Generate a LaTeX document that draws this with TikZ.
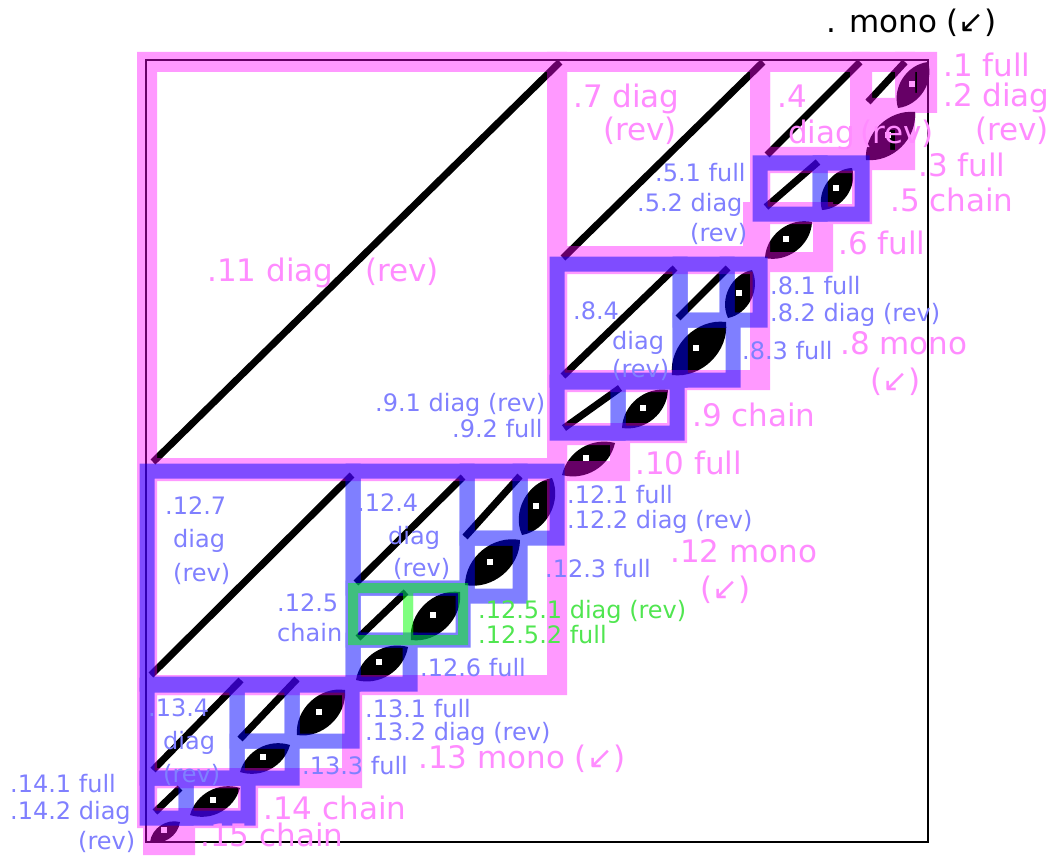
\documentclass[tikz,border=0pt]{standalone}
\usepackage{fontspec}
\setmainfont{DejaVu Sans}
\usetikzlibrary{calc}
\definecolor{pinkband}{RGB}{255,0,255}
\definecolor{blueband}{RGB}{0,0,255}
\definecolor{greenband}{RGB}{0,255,0}
\definecolor{pinktxt}{RGB}{255,140,255}
\definecolor{bluetxt}{RGB}{128,128,255}
\definecolor{greentxt}{RGB}{80,230,80}
\tikzset{
  diagline/.style={line width=7pt},
  pinkbox/.style={draw=pinkband,line width=20pt},
  bluebox/.style={draw=blueband,line width=15pt},
  greenbox/.style={draw=greenband,line width=10pt},
  biglab/.style={font=\fontsize{31}{34}\selectfont, anchor=base west, inner sep=0pt},
  smalllab/.style={font=\fontsize{24}{27}\selectfont, anchor=base west, inner sep=0pt},
  pl/.style={biglab,text=pinktxt},
  kl/.style={biglab,text=black},
  bl/.style={smalllab,text=bluetxt},
  gl/.style={smalllab,text=greentxt},
}
\newcommand\fullblob[3]{%
  \fill[black] (#1) to[bend left=#3] (#2) to[bend left=#3] (#1) -- cycle;
  \fill[white] ($(#1)!0.45!(#2)+(-3,-6)$) rectangle ++(6,6);}
\begin{document}
\begin{tikzpicture}[x=1pt,y=-1pt]
\fill[white] (0,0) rectangle (1052,856);
\useasboundingbox (0,0) rectangle (1052,856);

% frame
\draw[line width=1.6pt] (146,60) rectangle (928,842);

% diagonal (diag) contents
\draw[diagline] (153,462) -- (560,62);   % .11
\draw[diagline] (563,258) -- (763,62);   % .7
\draw[diagline] (767,155) -- (860,62);   % .4
\draw[diagline] (868,102) -- (905,62);   % .2
\draw[diagline] (766,207) -- (818,162);  % .5.2
\draw[diagline] (563,376) -- (675,268);  % .8.4
\draw[diagline] (678,318) -- (728,268);  % .8.2
\draw[diagline] (564,428) -- (620,388);  % .9.1
\draw[diagline] (151,675) -- (352,475);  % .12.7
\draw[diagline] (356,583) -- (463,477);  % .12.4
\draw[diagline] (465,537) -- (520,476);  % .12.2
\draw[diagline] (358,638) -- (406,592);  % .12.5.1
\draw[diagline] (153,770) -- (241,680);  % .13.4
\draw[diagline] (240,739) -- (297,679);  % .13.2
\draw[diagline] (155,812) -- (180,788);  % .14.2

% full contents
\fullblob{898,108}{928,62}{50}    % .1
\fullblob{866,160}{915,112}{50}   % .3
\fullblob{822,210}{852,168}{52}   % .5.1
\fullblob{765,258}{812,222}{50}   % .6
\fullblob{728,318}{752,270}{52}   % .8.1
\fullblob{672,375}{726,322}{52}   % .8.3
\fullblob{622,428}{668,390}{48}   % .9.2
\fullblob{562,475}{615,443}{46}   % .10
\fullblob{522,535}{552,478}{52}   % .12.1
\fullblob{465,585}{520,540}{50}   % .12.3
\fullblob{411,640}{460,592}{52}   % .12.5.2
\fullblob{356,680}{408,647}{48}   % .12.6
\fullblob{297,735}{345,690}{52}   % .13.1
\fullblob{240,772}{290,745}{46}   % .13.3
\fullblob{190,815}{240,788}{46}   % .14.1
\fullblob{150,842}{180,822}{48}   % .15

% level 1 (pink)
\begin{scope}[transparency group, opacity=0.4]
  \draw[pinkbox] (147,62) rectangle (557,468);   % .11
  \draw[pinkbox] (557,62) rectangle (760,256);   % .7
  \draw[pinkbox] (760,62) rectangle (860,157);   % .4
  \draw[pinkbox] (862,62) rectangle (905,108);   % .2
  \draw[pinkbox] (905,62) rectangle (927,103);   % .1
  \draw[pinkbox] (880,120) rectangle (905,160);  % .3
  \draw[pinkbox] (760,163) rectangle (862,214);  % .5
  \draw[pinkbox] (753,212) rectangle (823,262);  % .6
  \draw[pinkbox] (557,264) rectangle (760,380);  % .8
  \draw[pinkbox] (557,382) rectangle (677,433);  % .9
  \draw[pinkbox] (557,435) rectangle (620,471);  % .10
  \draw[pinkbox] (147,471) rectangle (557,685);  % .12
  \draw[pinkbox] (147,685) rectangle (352,778);  % .13
  \draw[pinkbox] (147,778) rectangle (248,818);  % .14
  \draw[pinkbox] (153,830) rectangle (185,845);  % .15
\end{scope}

% level 2 (blue)
\begin{scope}[transparency group, opacity=0.5]
  \draw[bluebox] (760,163) rectangle (820,214);  % .5.2
  \draw[bluebox] (820,163) rectangle (862,214);  % .5.1
  \draw[bluebox] (557,264) rectangle (680,380);  % .8.4
  \draw[bluebox] (680,264) rectangle (727,320);  % .8.2
  \draw[bluebox] (727,264) rectangle (760,320);  % .8.1
  \draw[bluebox] (680,320) rectangle (733,380);  % .8.3
  \draw[bluebox] (557,382) rectangle (618,433);  % .9.1
  \draw[bluebox] (618,382) rectangle (677,433);  % .9.2
  \draw[bluebox] (147,471) rectangle (353,684);  % .12.7
  \draw[bluebox] (353,471) rectangle (467,588);  % .12.4
  \draw[bluebox] (467,471) rectangle (520,538);  % .12.2
  \draw[bluebox] (520,471) rectangle (557,538);  % .12.1
  \draw[bluebox] (467,538) rectangle (520,596);  % .12.3
  \draw[bluebox] (353,588) rectangle (463,640);  % .12.5
  \draw[bluebox] (353,640) rectangle (410,684);  % .12.6
  \draw[bluebox] (147,685) rectangle (237,778);  % .13.4
  \draw[bluebox] (237,685) rectangle (292,741);  % .13.2
  \draw[bluebox] (292,685) rectangle (352,741);  % .13.1
  \draw[bluebox] (237,741) rectangle (292,778);  % .13.3
  \draw[bluebox] (147,778) rectangle (186,818);  % .14.2
  \draw[bluebox] (186,778) rectangle (248,818);  % .14.1
\end{scope}

% level 3 (green)
\begin{scope}[transparency group, opacity=0.5]
  \draw[greenbox] (353,588) rectangle (408,640);  % .12.5.1
  \draw[greenbox] (408,588) rectangle (463,640);  % .12.5.2
\end{scope}

% labels
\node[kl] (lroot) at (826,33) {. mono (↙)};
\node[pl] (l1) at (943,77) {.1 full};
\node[pl] (l2a) at (943,107) {.2 diag};
\node[pl] (l2b) at (975,141) {(rev)};
\node[pl] (l3) at (918,176) {.3 full};
\node[pl] (l4a) at (777,108) {.4};
\node[pl] (l4b) at (788,143) {diag};
\node[pl] (l4c) at (860,143) {(rev)};
\node[pl] (l5) at (890,211) {.5 chain};
\node[pl] (l6) at (838,254) {.6 full};
\node[pl] (l7a) at (573,108) {.7 diag};
\node[pl] (l7b) at (603,141) {(rev)};
\node[pl] (l8a) at (840,354) {.8 mono};
\node[pl] (l8b) at (870,391) {(↙)};
\node[pl] (l9) at (692,426) {.9 chain};
\node[pl] (l10) at (635,474) {.10 full};
\node[pl] (l11a) at (207,281) {.11 diag};
\node[pl] (l11b) at (365,281) {(rev)};
\node[pl] (l12a) at (670,562) {.12 mono};
\node[pl] (l12b) at (700,599) {(↙)};
\node[pl] (l13) at (418,768) {.13 mono (↙)};
\node[pl] (l14) at (263,819) {.14 chain};
\node[pl] (l15) at (200,846) {.15 chain};

\node[bl] (l51) at (655,182) {.5.1 full};
\node[bl] (l52a) at (637,211) {.5.2 diag};
\node[bl] (l52b) at (690,241) {(rev)};
\node[bl] (l81) at (770,294) {.8.1 full};
\node[bl] (l82) at (770,321) {.8.2 diag (rev)};
\node[bl] (l83) at (742,359) {.8.3 full};
\node[bl] (l84a) at (573,319) {.8.4};
\node[bl] (l84b) at (612,349) {diag};
\node[bl] (l84c) at (612,377) {(rev)};
\node[bl] (l91) at (375,411) {.9.1 diag (rev)};
\node[bl] (l92) at (452,437) {.9.2 full};
\node[bl] (l121) at (567,503) {.12.1 full};
\node[bl] (l122) at (567,528) {.12.2 diag (rev)};
\node[bl] (l123) at (545,577) {.12.3 full};
\node[bl] (l124a) at (357,511) {.12.4};
\node[bl] (l124b) at (388,544) {diag};
\node[bl] (l124c) at (393,576) {(rev)};
\node[bl] (l127a) at (165,514) {.12.7};
\node[bl] (l127b) at (173,547) {diag};
\node[bl] (l127c) at (173,581) {(rev)};
\node[bl] (l125a) at (277,611) {.12.5};
\node[bl] (l125b) at (277,641) {chain};
\node[bl] (l126) at (420,676) {.12.6 full};
\node[bl] (l131) at (365,717) {.13.1 full};
\node[bl] (l132) at (365,740) {.13.2 diag (rev)};
\node[bl] (l133) at (302,774) {.13.3 full};
\node[bl] (l134a) at (148,716) {.13.4};
\node[bl] (l134b) at (163,749) {diag};
\node[bl] (l134c) at (163,782) {(rev)};
\node[bl] (l141) at (10,792) {.14.1 full};
\node[bl] (l142a) at (10,819) {.14.2 diag};
\node[bl] (l142b) at (78,849) {(rev)};

\node[gl] (l1251) at (478,618) {.12.5.1 diag (rev)};
\node[gl] (l1252) at (478,643) {.12.5.2 full};
\end{tikzpicture}
\end{document}
